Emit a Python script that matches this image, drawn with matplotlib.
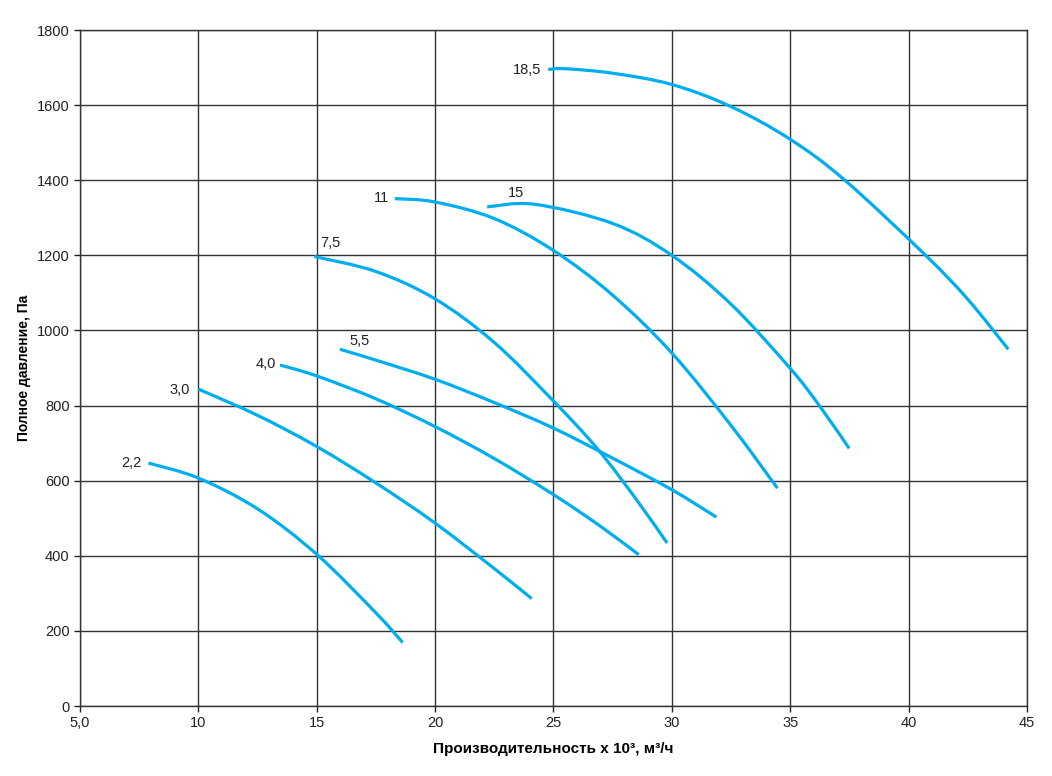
import matplotlib
matplotlib.use('Agg')
import matplotlib.pyplot as plt
from matplotlib.path import Path
from matplotlib.patches import PathPatch

plt.rcParams['font.family'] = ['Liberation Sans', 'DejaVu Sans']

# fan curves: flow (x 10^3 m3/h) and total pressure (Pa)
x_22 = [7.89, 10.0, 12.5, 15.0, 17.5, 18.63]
y_22 = [647, 607, 525, 404, 248, 169]

x_30 = [10.0, 12.5, 15.0, 17.5, 20.0, 22.5, 24.08]
y_30 = [844, 774, 691, 594, 487, 366, 286]

x_40 = [13.45, 15.0, 17.5, 20.0, 22.5, 25.0, 27.0, 28.6]
y_40 = [908, 879, 818, 744, 659, 563, 478, 403]

x_55 = [15.98, 17.5, 20.0, 22.5, 25.0, 27.5, 30.0, 31.88]
y_55 = [950, 921, 870, 808, 740, 660, 576, 503]

x_75 = [14.9, 17.5, 20.0, 22.5, 25.0, 26.87, 28.5, 29.8]
y_75 = [1197, 1157, 1084, 968, 812, 684, 550, 434]

x_11 = [18.3, 20.0, 22.5, 25.0, 27.5, 30.0, 32.5, 34.46]
y_11 = [1351, 1342, 1298, 1213, 1094, 940, 747, 580]

x_15 = [22.2, 24.2, 27.5, 30.0, 32.5, 35.0, 36.23, 37.49]
y_15 = [1329, 1336, 1285, 1200, 1070, 899, 800, 686]

x_185 = [24.78, 25.5, 27.5, 30.0, 32.5, 35.0, 37.31, 40.72, 42.5, 44.21]
y_185 = [1695, 1697, 1685, 1655, 1596, 1509, 1400, 1200, 1083, 950]

curve_labels = ['2,2', '3,0', '4,0', '5,5', '7,5', '11', '15', '18,5']
label_x = [7.62, 9.65, 13.28, 16.83, 15.56, 18.05, 23.4, 24.47]
label_y = [647, 841, 910, 972, 1233, 1352, 1366, 1693]
label_ha = ['right', 'right', 'right', 'center', 'center', 'right', 'center', 'right']

xticks = [5, 10, 15, 20, 25, 30, 35, 40, 45]
xtick_labels = ['5,0', '10', '15', '20', '25', '30', '35', '40', '45']
yticks = list(range(0, 1801, 200))

curves = [(x_22, y_22), (x_30, y_30), (x_40, y_40), (x_55, y_55),
          (x_75, y_75), (x_11, y_11), (x_15, y_15), (x_185, y_185)]


def smooth_path(xs, ys):
    # bezier path through the read points (catmull-rom tangents)
    pts = list(zip(xs, ys))
    n = len(pts)
    verts = [pts[0]]
    codes = [Path.MOVETO]
    for i in range(n - 1):
        p0 = pts[i - 1] if i > 0 else pts[i]
        p1 = pts[i]
        p2 = pts[i + 1]
        p3 = pts[i + 2] if i + 2 < n else pts[i + 1]
        c1 = (p1[0] + (p2[0] - p0[0]) / 6, p1[1] + (p2[1] - p0[1]) / 6)
        c2 = (p2[0] - (p3[0] - p1[0]) / 6, p2[1] - (p3[1] - p1[1]) / 6)
        verts += [c1, c2, p2]
        codes += [Path.CURVE4] * 3
    return Path(verts, codes)


fig = plt.figure(figsize=(10.52, 7.76), dpi=100)
ax = fig.add_axes([0.076, 0.0902, 0.9002, 0.8711])

for xs, ys in curves:
    ax.add_patch(PathPatch(smooth_path(xs, ys), fill=False, edgecolor='#00aeef',
                           lw=2.3, capstyle='butt', zorder=3))

for lab, lx, ly, ha in zip(curve_labels, label_x, label_y, label_ha):
    ax.text(lx, ly, lab, ha=ha, va='center', fontsize=10.5, color='#222222')

ax.set_xlim(5, 45)
ax.set_ylim(0, 1800)
ax.set_xticks(xticks)
ax.set_xticklabels(xtick_labels)
ax.set_yticks(yticks)
ax.grid(True, color='#333333', lw=1.0)
ax.set_axisbelow(True)
ax.tick_params(direction='out', length=4, width=1, labelsize=10.5, colors='#222222')
for sp in ax.spines.values():
    sp.set_color('#333333')
    sp.set_linewidth(1.0)

ax.set_xlabel('Производительность х 10³, м³/ч', fontsize=11, fontweight='bold', labelpad=8)
ax.set_ylabel('Полное давление, Па', fontsize=10, fontweight='bold', labelpad=4)

fig.savefig('out.png', dpi=100)
